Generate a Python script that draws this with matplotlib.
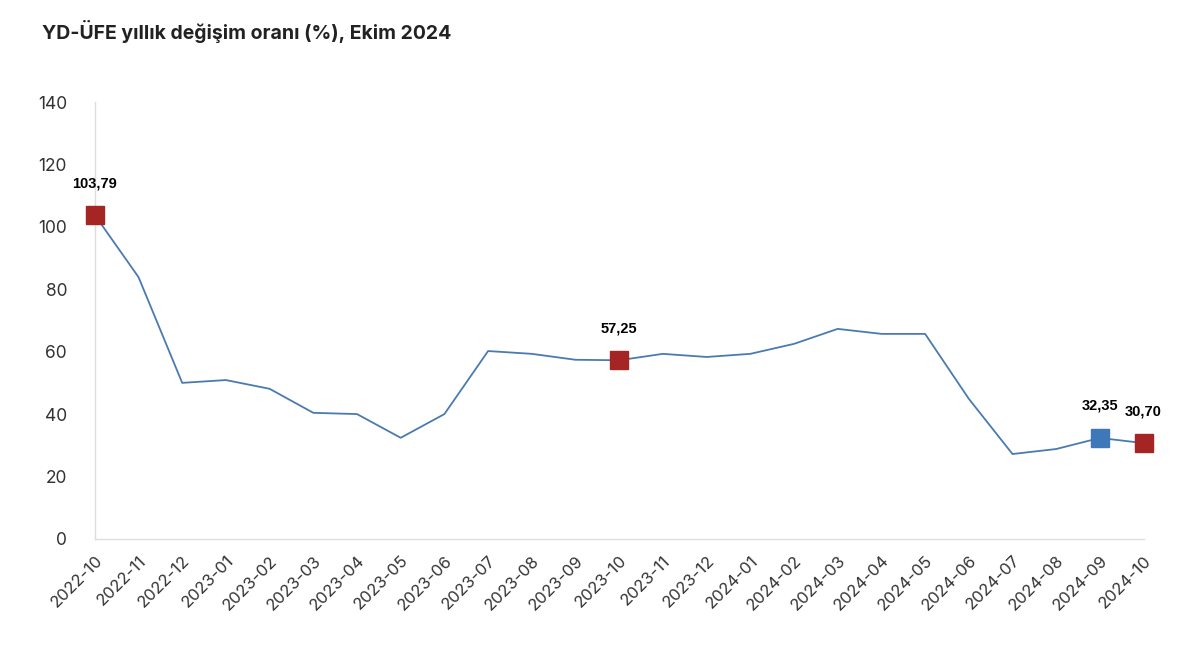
import matplotlib
matplotlib.use("Agg")
import matplotlib.pyplot as plt

# Aylar ve YD-ÜFE yıllık değişim oranları (%)
months = ["2022-10", "2022-11", "2022-12", "2023-01", "2023-02", "2023-03",
          "2023-04", "2023-05", "2023-06", "2023-07", "2023-08", "2023-09",
          "2023-10", "2023-11", "2023-12", "2024-01", "2024-02", "2024-03",
          "2024-04", "2024-05", "2024-06", "2024-07", "2024-08", "2024-09",
          "2024-10"]
values = [103.79, 83.9, 50.0, 50.9, 48.1, 40.4, 40.0, 32.4, 40.0, 60.2,
          59.3, 57.4, 57.25, 59.3, 58.3, 59.3, 62.5, 67.3, 65.7, 65.7,
          44.9, 27.2, 28.8, 32.35, 30.70]

# vurgulanan noktalar
red_idx = [0, 12, 24]
blue_idx = [23]
yticks = [0, 20, 40, 60, 80, 100, 120, 140]

plt.rcParams['font.family'] = ['Inter', 'DejaVu Sans']

fig = plt.figure(figsize=(12, 6.54), dpi=100)
ax = fig.add_axes([0.079, 0.176, 0.874, 0.668])

x = list(range(len(months)))
ax.plot(x, values, color="#4a7bb0", lw=1.3, zorder=2)

for i in red_idx:
    ax.plot(x[i], values[i], marker="s", ms=13, color="#a52424", zorder=3, clip_on=False)
for i in blue_idx:
    ax.plot(x[i], values[i], marker="s", ms=13, color="#3f78b8", zorder=3, clip_on=False)

for i in red_idx + blue_idx:
    lab = f"{values[i]:.2f}".replace(".", ",")
    ax.annotate(lab, (x[i], values[i]), xytext=(0, 18), textcoords="offset points",
                ha="center", va="bottom", fontsize=10.5, fontweight="bold",
                family="Liberation Sans", color="black", annotation_clip=False)

ax.set_xlim(0, len(months) - 1)
ax.set_ylim(0, 140)
ax.set_yticks(yticks)
ax.set_yticklabels([str(v) for v in yticks], fontsize=12.5, color="#333333")
ax.set_xticks(x)
ax.set_xticklabels(months, rotation=45, ha="right", rotation_mode="anchor",
                   fontsize=12, color="#333333")
ax.tick_params(length=0, pad=10)
ax.tick_params(axis="y", pad=20)

for s in ["top", "right"]:
    ax.spines[s].set_visible(False)
for s in ["left", "bottom"]:
    ax.spines[s].set_color("#dddddd")
    ax.spines[s].set_linewidth(1)

fig.text(0.035, 0.952, "YD-ÜFE yıllık değişim oranı (%), Ekim 2024",
         fontsize=14, fontweight="bold", color="#222222", va="center")

fig.savefig("out.png", dpi=100, facecolor="white")
